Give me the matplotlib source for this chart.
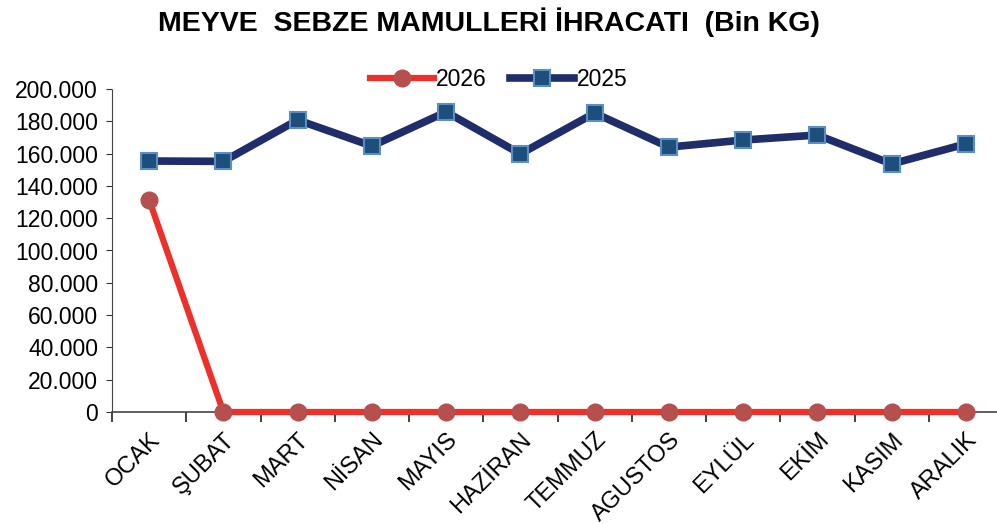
import matplotlib.pyplot as plt
from matplotlib.ticker import FuncFormatter

months = ["OCAK", "ŞUBAT", "MART", "NİSAN", "MAYIS", "HAZİRAN",
          "TEMMUZ", "AGUSTOS", "EYLÜL", "EKİM", "KASIM", "ARALIK"]
y2026 = [131300, 0, 0, 0, 0, 0, 0, 0, 0, 0, 0, 0]
y2025 = [155400, 155200, 180800, 164700, 185800, 159800,
         185100, 164000, 168400, 171500, 153600, 166000]

plt.rcParams['font.family'] = ['Liberation Sans', 'DejaVu Sans']

fig = plt.figure(figsize=(9.97, 5.24), dpi=100)
ax = fig.add_axes([112 / 997, 112 / 524, 891 / 997, 323 / 524])

x = list(range(len(months)))
l25, = ax.plot(x, y2025, color='#1f2d6b', lw=5.5, marker='s', ms=11.5,
               mfc='#1d4f7c', mec='#5b8fc4', mew=1.5, clip_on=False, zorder=3)
l26, = ax.plot(x, y2026, color='#ee2f2a', lw=4.5, marker='o', ms=12,
               mfc='#b5504f', mec='#b5504f', clip_on=False, zorder=4)

ax.set_xlim(-0.5, 11.5)
ax.set_ylim(0, 200000)
ax.set_yticks(range(0, 200001, 20000))
ax.yaxis.set_major_formatter(FuncFormatter(lambda v, p: f"{int(v):,}".replace(",", ".")))
ax.set_xticks(x)
ax.set_xticklabels(months, rotation=45, ha='right',
                   rotation_mode='anchor', fontsize=17)
ax.set_xticks([i + 0.5 for i in range(-1, 12)], minor=True)
ax.tick_params(axis='x', which='major', length=0, pad=12)
ax.tick_params(axis='x', which='minor', length=7, width=1.3,
               color='#333333', direction='out')
ax.tick_params(axis='y', labelsize=16.5, length=4, color='#333333', pad=6)

for s in ['top', 'right']:
    ax.spines[s].set_visible(False)
ax.spines['left'].set_linestyle((0, (2, 1)))
ax.spines['left'].set_color('#444444')
ax.spines['bottom'].set_color('#444444')
ax.spines['bottom'].set_linewidth(1.2)

fig.legend([l26, l25], ["2026", "2025"], loc='center', ncol=2,
           bbox_to_anchor=(0.5, 1 - 80 / 524), frameon=False, fontsize=16.5,
           handlelength=2.8, handletextpad=0.1, columnspacing=1.0)

fig.text(0.49, 1 - 22 / 524, "MEYVE  SEBZE MAMULLERİ İHRACATI  (Bin KG)",
         ha='center', va='center', fontsize=20.5, fontweight='bold')

fig.savefig("out.png", dpi=100)
